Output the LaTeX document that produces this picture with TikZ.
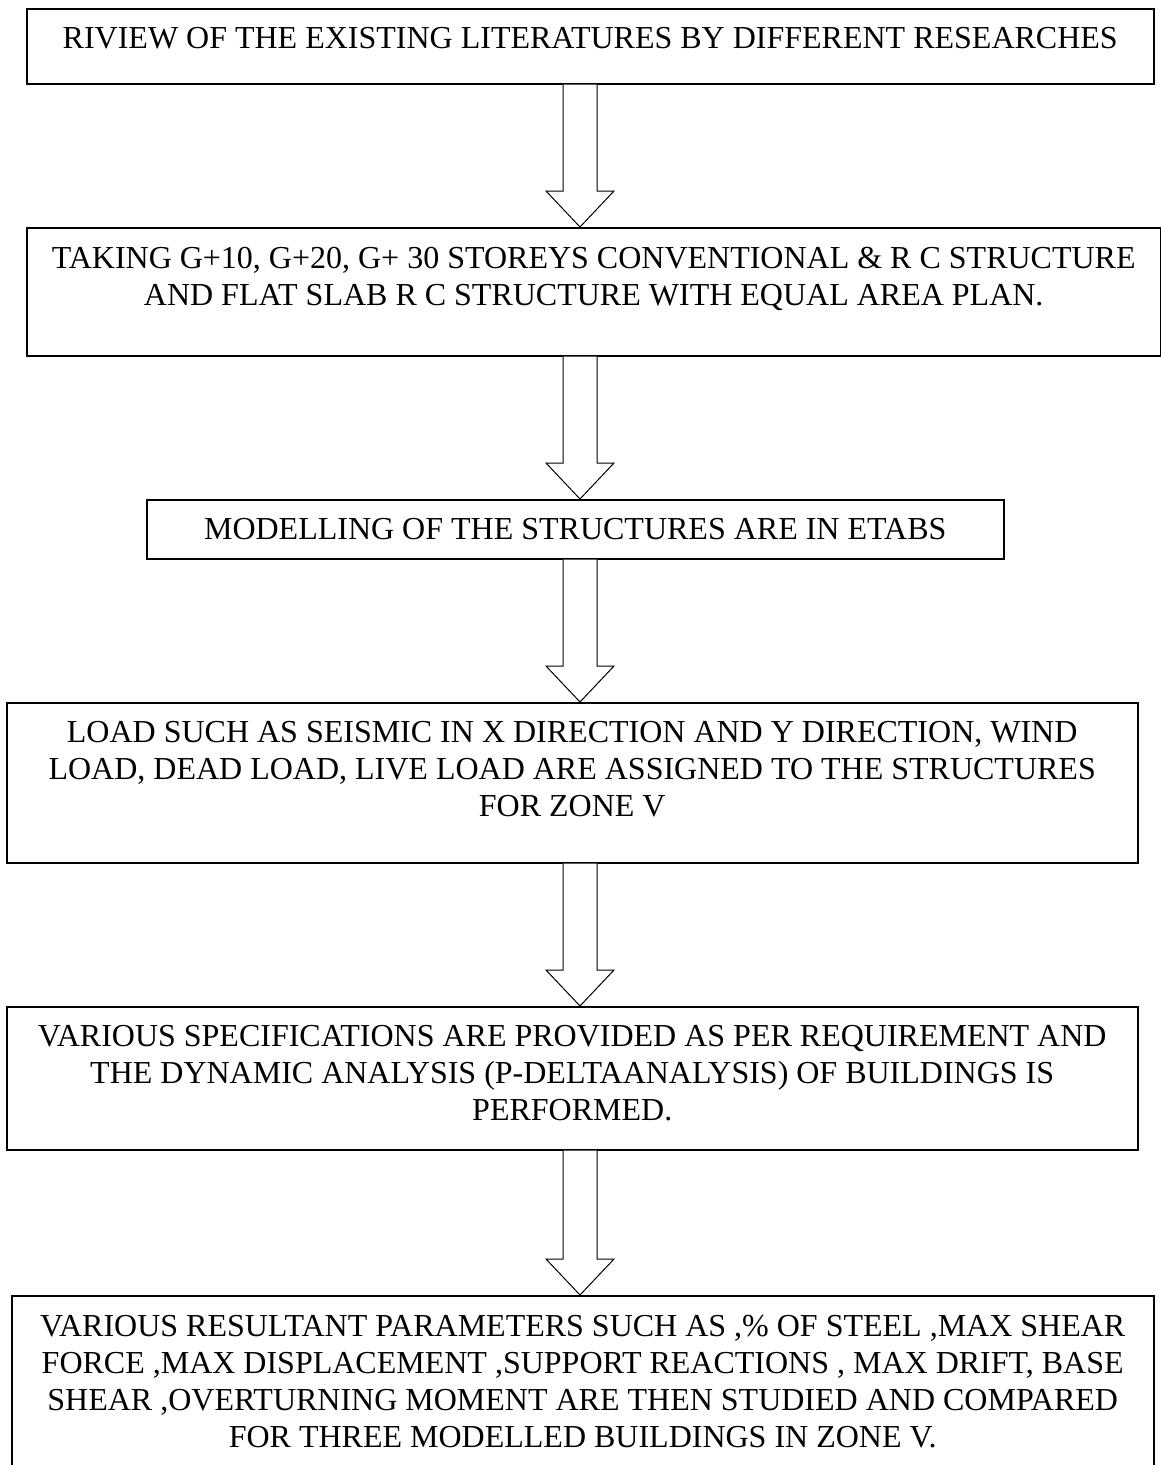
\documentclass[tikz,border=0pt]{standalone}
\usepackage{fontspec}
\setmainfont{Liberation Serif}
\usepackage{tikz}
\usetikzlibrary{calc}
\newcommand{\boxlines}[3]{\parbox[c][#2][t]{#1}{\centering\vspace*{19pt}#3\par}}

\begin{document}
\begin{tikzpicture}[
  x=1pt, y=-1pt,
  flowbox/.style={draw, line width=1.5pt, inner sep=0pt, anchor=north west,
                  font=\fontsize{32}{37}\selectfont},
  blockarr/.style={draw, line width=1pt, fill=white, line join=miter}
]
  \useasboundingbox (0,0) rectangle (1160,1465);
  \coordinate (axis) at (580,0);

  \node[flowbox] (review) at (26,8) {\boxlines{1127pt}{75pt}{RIVIEW OF THE EXISTING LITERATURES BY DIFFERENT RESEARCHES}};
  \node[flowbox] (taking) at (26,227) {\boxlines{1134pt}{128pt}{TAKING G+10, G+20, G+ 30 STOREYS CONVENTIONAL \& R C STRUCTURE\\AND FLAT SLAB R C STRUCTURE WITH EQUAL AREA PLAN.}};
  \node[flowbox] (model) at (146,499) {\boxlines{857pt}{59pt}{MODELLING OF THE STRUCTURES ARE IN ETABS}};
  \node[flowbox] (load) at (6,702) {\boxlines{1131pt}{160pt}{LOAD SUCH AS SEISMIC IN X DIRECTION AND Y DIRECTION, WIND\\LOAD, DEAD LOAD, LIVE LOAD ARE ASSIGNED TO THE STRUCTURES\\FOR ZONE V}};
  \node[flowbox] (spec) at (6,1006) {\boxlines{1131pt}{143pt}{VARIOUS SPECIFICATIONS ARE PROVIDED AS PER REQUIREMENT AND\\THE DYNAMIC ANALYSIS (P-DELTAANALYSIS) OF BUILDINGS IS\\PERFORMED.}};
  \node[flowbox] (result) at (11,1295) {\boxlines{1142pt}{180pt}{VARIOUS RESULTANT PARAMETERS SUCH AS ,\% OF STEEL ,MAX SHEAR\\FORCE ,MAX DISPLACEMENT ,SUPPORT REACTIONS , MAX DRIFT, BASE\\SHEAR ,OVERTURNING MOMENT ARE THEN STUDIED AND COMPARED\\FOR THREE MODELLED BUILDINGS IN ZONE V.}};

  % hollow block arrows between the steps
  \foreach \a/\b in {review/taking, taking/model, model/load, load/spec, spec/result}
    \draw[blockarr] let \p1=(\a.south -| axis), \p2=(\b.north -| axis) in
      (\x1-17pt,\y1) -- (\x1-17pt,\y2+36pt) -- (\x1-34pt,\y2+36pt) -- (\x2,\y2)
      -- (\x1+34pt,\y2+36pt) -- (\x1+17pt,\y2+36pt) -- (\x1+17pt,\y1);
\end{tikzpicture}
\end{document}
